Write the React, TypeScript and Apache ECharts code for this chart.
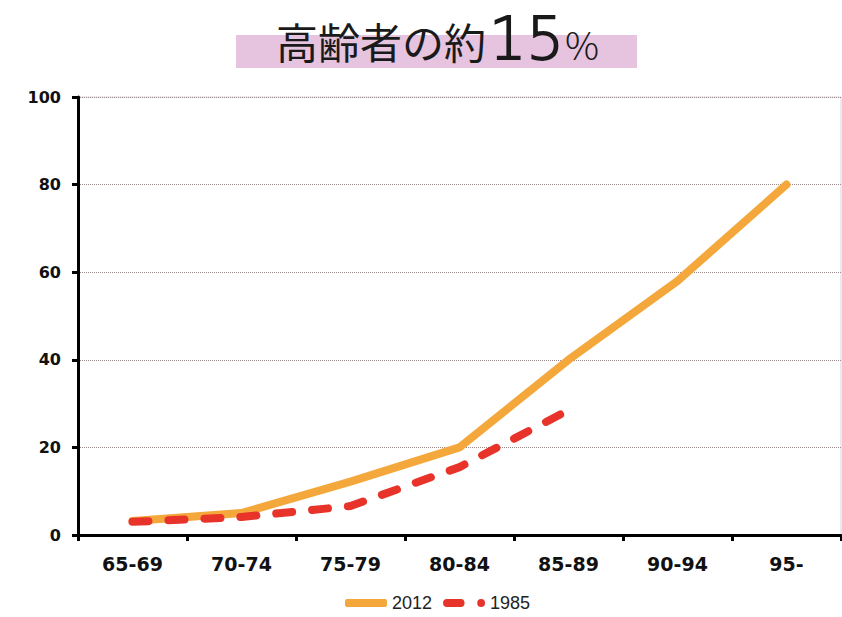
import React, { useEffect, useRef } from "react";
import * as echarts from "echarts";

const categories = ["65-69", "70-74", "75-79", "80-84", "85-89", "90-94", "95-"];
const series2012 = [3.2, 5.0, 12.2, 20.0, 40.0, 58.0, 80.0];
const series1985 = [3.0, 4.1, 6.6, 15.5, 28.5];
const yTicks = { min: 0, max: 100, interval: 20 };

// Legend marker for the dashed series: one rounded dash followed by a dot
const dashDotIcon =
  "path://M4,0 H18 A4,4 0 0 1 18,8 H4 A4,4 0 0 1 4,0 Z M39,0 A4,4 0 1 1 39,8 A4,4 0 1 1 39,0 Z";

export default function App() {
  const ref = useRef<HTMLDivElement>(null);

  useEffect(() => {
    if (!ref.current) return;
    const chart = echarts.init(ref.current, undefined, { renderer: "svg" });
    const titleFont = "Noto Sans CJK JP";
    chart.setOption({
      animation: false,
      backgroundColor: "#ffffff",
      graphic: [
        {
          type: "rect",
          shape: { x: 236, y: 35, width: 401, height: 33 },
          style: { fill: "#E6C4DF" },
          z: 0,
        },
        {
          type: "text",
          x: 276,
          y: 40,
          style: {
            text: "高齢者の約",
            fontFamily: titleFont,
            fontSize: 42,
            fill: "#1a1a1a",
            verticalAlign: "middle",
          },
          z: 1,
        },
        {
          type: "text",
          x: 489,
          y: 38,
          style: {
            text: "15",
            fontFamily: "DejaVu Sans",
            fontSize: 59,
            fontWeight: 200,
            fill: "#1a1a1a",
            stroke: "#1a1a1a",
            lineWidth: 1.8,
            verticalAlign: "middle",
          },
          z: 1,
        },
        {
          type: "text",
          x: 565,
          y: 43,
          style: {
            text: "%",
            fontFamily: titleFont,
            fontSize: 38,
            fontWeight: 300,
            fill: "#1a1a1a",
            verticalAlign: "middle",
          },
          z: 1,
        },
      ],
      grid: {
        left: 78,
        right: 1,
        top: 97,
        bottom: 82,
        show: true,
        borderColor: "#d9d4d4",
        borderWidth: 1,
      },
      legend: {
        top: 594,
        left: 345,
        padding: 0,
        itemWidth: 42,
        itemHeight: 8,
        itemGap: 11,
        textStyle: { fontFamily: "Liberation Sans", fontSize: 18, color: "#222" },
        data: [
          { name: "2012", icon: "roundRect" },
          { name: "1985", icon: dashDotIcon },
        ],
      },
      xAxis: {
        type: "category",
        data: categories,
        boundaryGap: true,
        axisLine: { lineStyle: { color: "#000", width: 3 } },
        axisTick: { show: true, length: 6, lineStyle: { color: "#000", width: 3 } },
        axisLabel: {
          margin: 19,
          fontFamily: "DejaVu Sans",
          fontWeight: "bold",
          fontSize: 19,
          color: "#111",
        },
      },
      yAxis: {
        type: "value",
        min: yTicks.min,
        max: yTicks.max,
        interval: yTicks.interval,
        axisLine: { show: true, lineStyle: { color: "#000", width: 3 } },
        axisTick: { show: true, length: 6, lineStyle: { color: "#000", width: 3 } },
        axisLabel: {
          margin: 17,
          fontFamily: "DejaVu Sans",
          fontWeight: "bold",
          fontSize: 16,
          color: "#111",
        },
        splitLine: { show: true, lineStyle: { color: "#9a8a8a", width: 1, type: "dotted" } },
      },
      series: [
        {
          name: "2012",
          type: "line",
          data: series2012,
          symbol: "none",
          color: "#F4A73A",
          lineStyle: { color: "#F4A73A", width: 8, cap: "round", join: "round" },
          z: 2,
        },
        {
          name: "1985",
          type: "line",
          data: series1985,
          symbol: "none",
          color: "#E8332B",
          lineStyle: { color: "#E8332B", width: 8, type: [16, 20], cap: "round", join: "round" },
          z: 3,
        },
      ],
    });
    return () => chart.dispose();
  }, []);

  return (
    <div
      ref={ref}
      style={{ position: "absolute", left: 0, top: 0, width: 842, height: 617 }}
    />
  );
}
